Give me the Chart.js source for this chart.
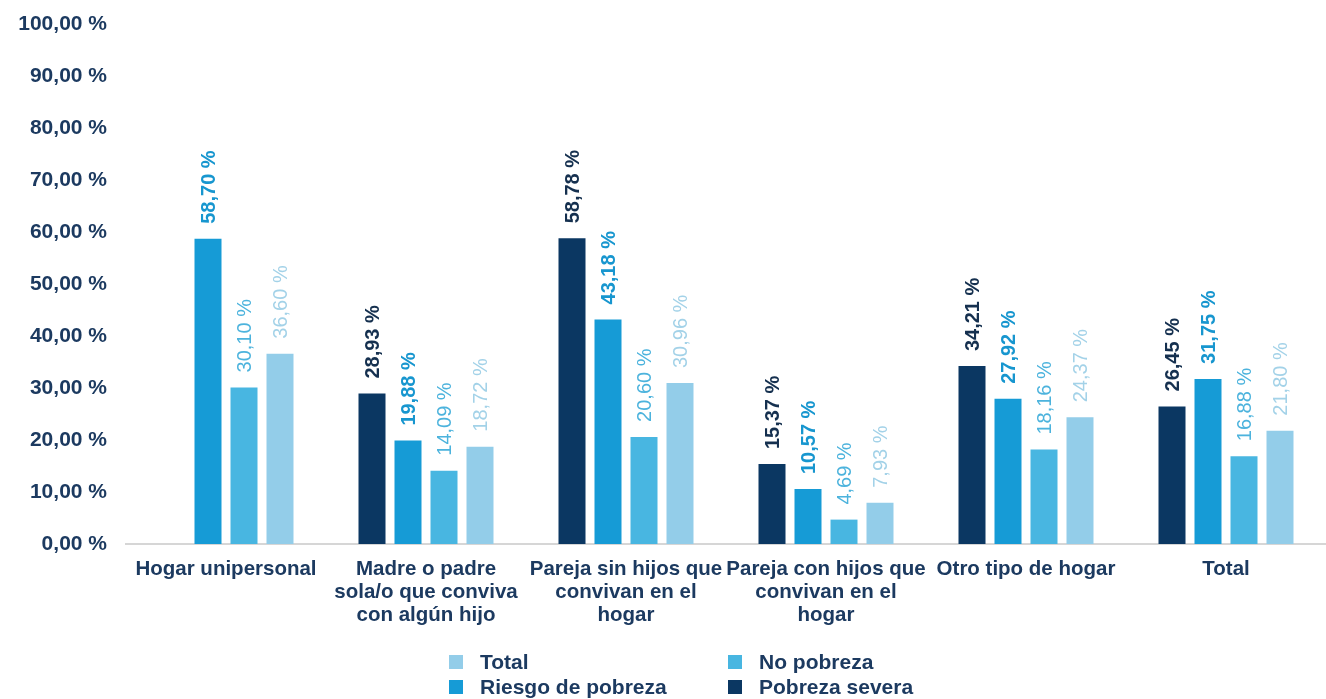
<!DOCTYPE html>
<html>
<head>
<meta charset="utf-8">
<script src="https://cdn.jsdelivr.net/npm/chart.js@4"></script>
<style>
  html, body { margin: 0; padding: 0; background: #fff; }
  #wrap { width: 1326px; height: 699px; }
</style>
</head>
<body>
<div id="wrap"><canvas id="chart" width="1326" height="699"></canvas></div>
<script>
// categories (multi-line labels as in the original)
const categories = [
  'Hogar unipersonal',
  ['Madre o padre', 'sola/o que conviva', 'con algún hijo'],
  ['Pareja sin hijos que', 'convivan en el', 'hogar'],
  ['Pareja con hijos que', 'convivan en el', 'hogar'],
  'Otro tipo de hogar',
  'Total'
];

// series values (%)
const pobrezaSevera = [null, 28.93, 58.78, 15.37, 34.21, 26.45];
const riesgoPobreza = [58.70, 19.88, 43.18, 10.57, 27.92, 31.75];
const noPobreza     = [30.10, 14.09, 20.60, 4.69, 18.16, 16.88];
const total         = [36.60, 18.72, 30.96, 7.93, 24.37, 21.80];

const seriesNames = ['Pobreza severa', 'Riesgo de pobreza', 'No pobreza', 'Total'];
const barColours  = ['#0b3762', '#169bd6', '#48b6e1', '#93cde9'];
const labelColours = ['#15304f', '#1796cf', '#4cb3dd', '#a3d2e8'];
const labelWeights = ['bold', 'bold', 'normal', 'normal'];

const FONT = "'Liberation Sans', Arial, sans-serif";
const TEXT = '#1c3a60';

function fmt(v) {
  return v.toFixed(2).replace('.', ',') + ' %';
}

// rotated value labels above every bar
const valueLabels = {
  id: 'valueLabels',
  afterDatasetsDraw(chart) {
    const ctx = chart.ctx;
    chart.data.datasets.forEach((ds, i) => {
      const meta = chart.getDatasetMeta(i);
      meta.data.forEach((bar, j) => {
        const v = ds.data[j];
        if (v === null || v === undefined) return;
        ctx.save();
        ctx.translate(bar.x, bar.y - 15);
        ctx.rotate(-Math.PI / 2);
        ctx.font = labelWeights[i] + ' 20px ' + FONT;
        ctx.fillStyle = labelColours[i];
        ctx.textAlign = 'left';
        ctx.textBaseline = 'middle';
        ctx.fillText(fmt(v), 0, 1);
        ctx.restore();
      });
    });
  }
};

// legend in two columns, order reversed like the original
const gridLegend = {
  id: 'gridLegend',
  afterDraw(chart) {
    const ctx = chart.ctx;
    const order = [3, 2, 1, 0];
    const colW = 279, rowH = 25, box = 14;
    const x0 = 449, y0 = 662;
    ctx.save();
    ctx.font = 'bold 21px ' + FONT;
    ctx.textBaseline = 'middle';
    order.forEach((idx, k) => {
      const col = k % 2, row = Math.floor(k / 2);
      const x = x0 + col * colW, y = y0 + row * rowH;
      ctx.fillStyle = chart.data.datasets[idx].backgroundColor;
      ctx.fillRect(x, y - box / 2, box, box);
      ctx.fillStyle = TEXT;
      ctx.fillText(chart.data.datasets[idx].label, x + 31, y + 1);
    });
    ctx.restore();
  }
};

const seriesData = [pobrezaSevera, riesgoPobreza, noPobreza, total];

new Chart(document.getElementById('chart').getContext('2d'), {
  type: 'bar',
  data: {
    labels: categories,
    datasets: seriesData.map((d, i) => ({
      label: seriesNames[i],
      data: d,
      backgroundColor: barColours[i],
      borderWidth: 0,
      categoryPercentage: 0.72,
      barPercentage: 0.75
    }))
  },
  options: {
    responsive: false,
    animation: false,
    devicePixelRatio: 1,
    layout: { padding: { top: 24, right: 0, bottom: 0, left: 0 } },
    plugins: {
      legend: { display: false },
      tooltip: { enabled: false }
    },
    scales: {
      x: {
        grid: { display: false, drawTicks: false },
        border: { display: true, color: '#d6d6d6', width: 2 },
        ticks: {
          color: TEXT,
          font: { family: FONT, size: 20.5, weight: 'bold', lineHeight: 1.12 },
          padding: 14,
          maxRotation: 0,
          autoSkip: false
        },
        afterFit: s => { s.height = 155; }
      },
      y: {
        min: 0,
        max: 100,
        grid: { display: false, drawTicks: false },
        border: { display: false },
        ticks: {
          stepSize: 10,
          color: TEXT,
          font: { family: FONT, size: 21, weight: 'bold' },
          padding: 19,
          callback: v => fmt(v)
        },
        afterFit: s => { s.width = 126; s.paddingTop = 0; s.paddingBottom = 0; }
      }
    }
  },
  plugins: [valueLabels, gridLegend]
});
</script>
</body>
</html>
